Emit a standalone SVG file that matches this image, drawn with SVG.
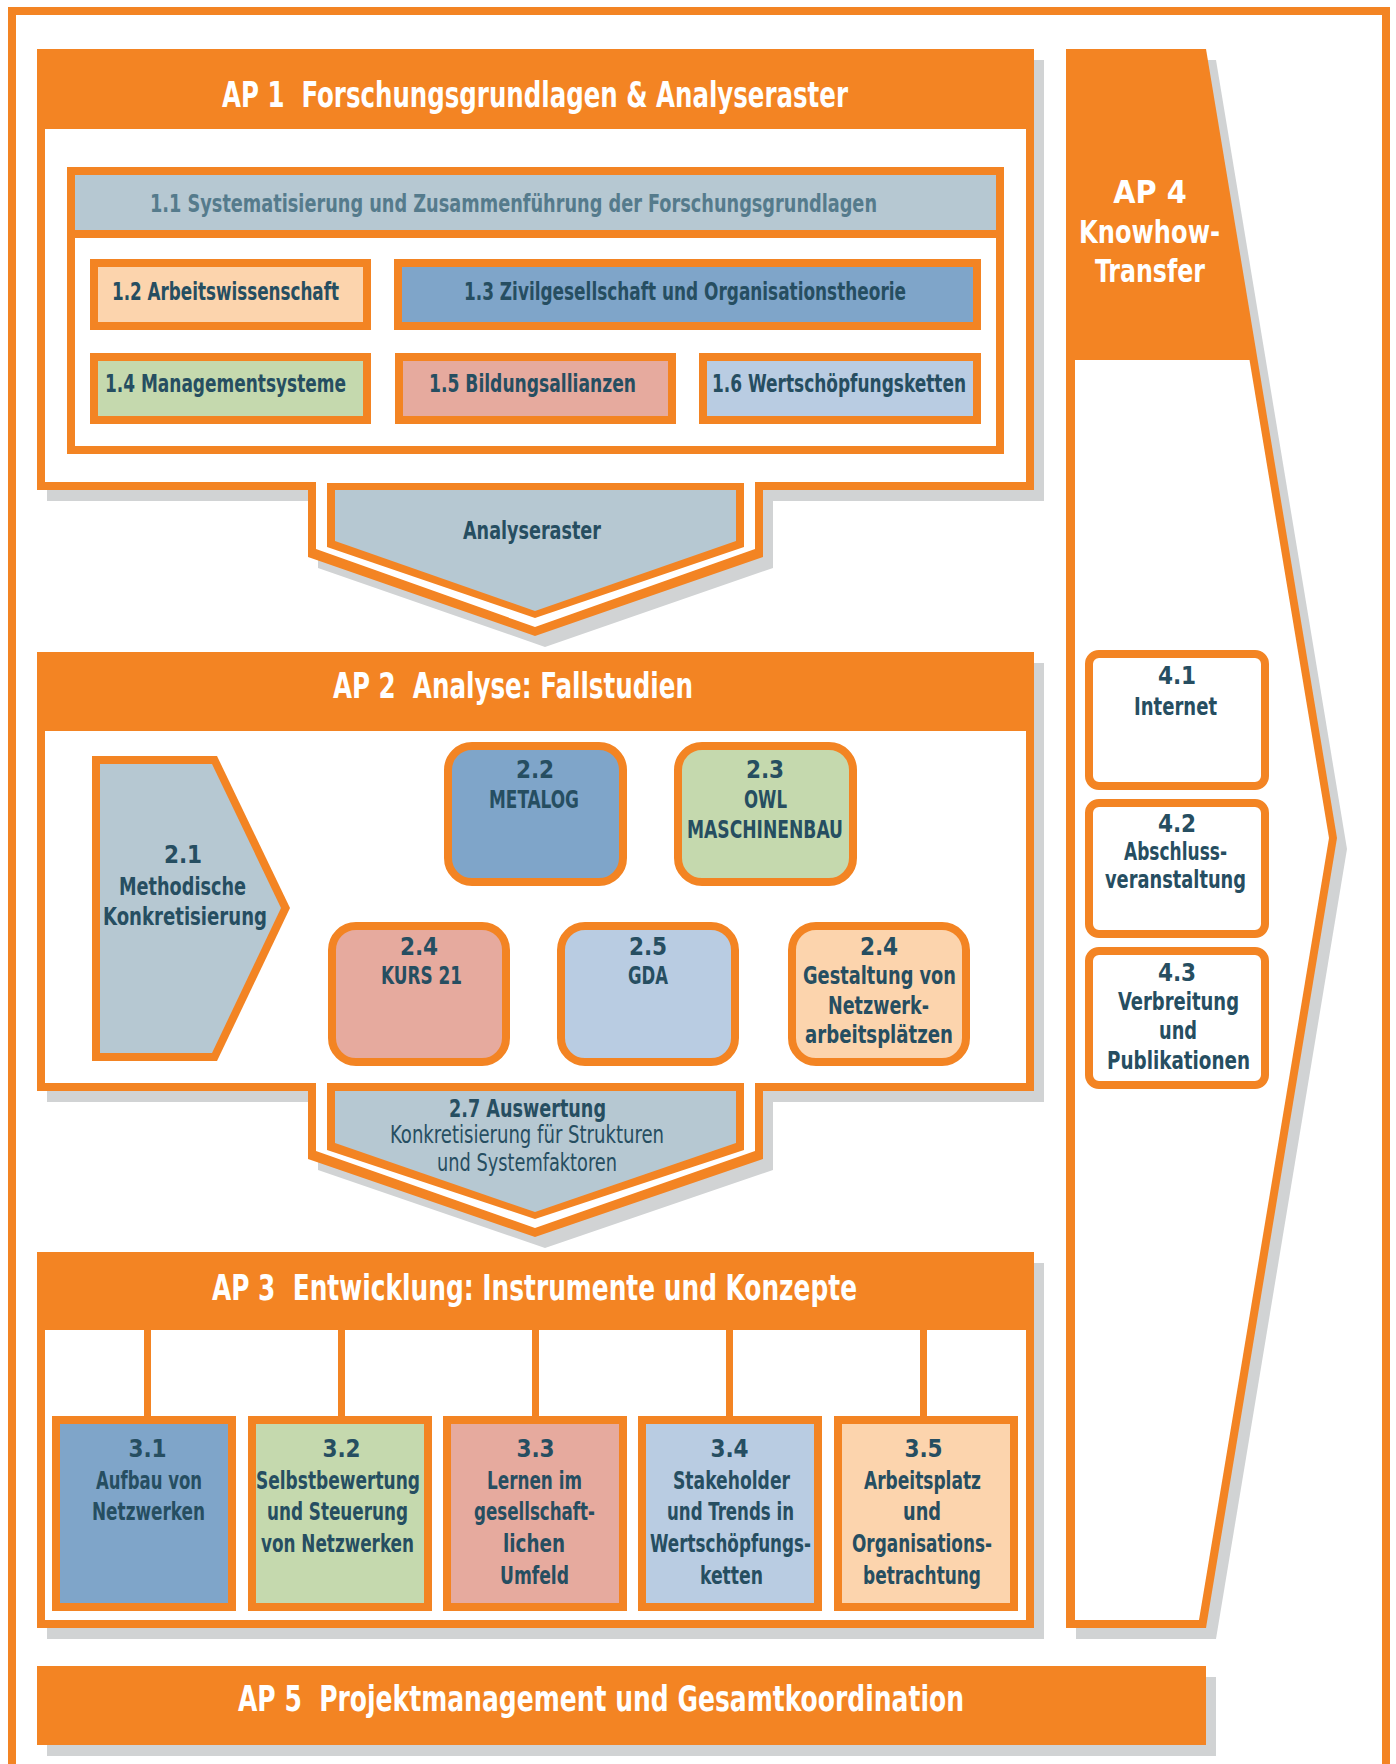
<svg xmlns="http://www.w3.org/2000/svg" width="1396" height="1764" viewBox="0 0 1396 1764">
<style>
.o{fill:#f38423}
.sh{fill:#d1d3d4}
.wf{fill:#fff}
.bx{stroke:#f38423;stroke-width:8}
.t{font-family:"Liberation Sans Narrow","DejaVu Sans Condensed","Liberation Sans",sans-serif;font-stretch:condensed;font-weight:bold;fill:#264e61;font-size:24px}
.n{font-weight:normal}
.h{fill:#fff;font-size:35px}
.h4{fill:#fff;font-size:32px}
.l{font-size:25px}
.m{text-anchor:middle}
.gb{fill:#b6c8d2}
.c1{fill:#7fa5c9}.c2{fill:#c5d9ae}.c3{fill:#e6aa9e}.c4{fill:#b9cce2}.c5{fill:#fcd4ad}
</style>
<rect width="1396" height="1764" fill="#fff"/>
<rect x="12" y="11" width="1374" height="1800" fill="none" stroke="#f38423" stroke-width="8"/>

<g id="shadows">
<polygon class="sh" points="47,60 1044,60 1044,501 773,501 773,568 545,647 318,568 318,501 47,501"/>
<polygon class="sh" points="47,663 1044,663 1044,1102 773,1102 773,1170 545,1248 318,1170 318,1102 47,1102"/>
<rect class="sh" x="47" y="1263" width="997" height="376"/>
<polygon class="sh" points="1076,60 1216,60 1347,849 1216,1639 1076,1639"/>
<rect class="sh" x="47" y="1677" width="1169" height="79"/>
</g>

<g id="ap1">
<polygon class="o" points="37,49 1034,49 1034,490 763,490 763,557 535,636 308,557 308,490 37,490"/>
<polygon class="wf" points="45,129 1026,129 1026,482 755,482 755,549 535,627 316,549 316,482 45,482"/>
<text class="t h" x="222" y="107" textLength="626" lengthAdjust="spacingAndGlyphs" xml:space="preserve">AP 1  Forschungsgrundlagen &amp; Analyseraster</text>
</g>

<g id="n1_1">
<rect class="o" x="67" y="167" width="937" height="287"/>
<rect class="wf" x="75" y="238" width="921" height="208"/>
<rect class="gb" x="75" y="175" width="921" height="55"/>
<text class="t" x="150" y="212" textLength="727" lengthAdjust="spacingAndGlyphs" style="fill:#557b8c">1.1 Systematisierung und Zusammenführung der Forschungsgrundlagen</text>
</g>
<g id="n1_2"><rect class="bx c5" x="94" y="263" width="273" height="63"/><text class="t l" x="112" y="300" textLength="227" lengthAdjust="spacingAndGlyphs">1.2 Arbeitswissenschaft</text></g>
<g id="n1_3"><rect class="bx c1" x="398" y="263" width="579" height="63"/><text class="t l" x="464" y="300" textLength="442" lengthAdjust="spacingAndGlyphs">1.3 Zivilgesellschaft und Organisationstheorie</text></g>
<g id="n1_4"><rect class="bx c2" x="94" y="357" width="273" height="63"/><text class="t l" x="105" y="392" textLength="241" lengthAdjust="spacingAndGlyphs">1.4 Managementsysteme</text></g>
<g id="n1_5"><rect class="bx c3" x="399" y="357" width="273" height="63"/><text class="t l" x="429" y="392" textLength="207" lengthAdjust="spacingAndGlyphs">1.5 Bildungsallianzen</text></g>
<g id="n1_6"><rect class="bx c4" x="703" y="357" width="274" height="63"/><text class="t l" x="712" y="392" textLength="254" lengthAdjust="spacingAndGlyphs">1.6 Wertschöpfungsketten</text></g>

<g id="analyseraster">
<polygon class="o" points="327,483 744,483 744,547 535,618 327,547"/>
<polygon class="gb" points="335,490 736,490 736,541 535,611 335,541"/>
<text class="t l" x="463" y="539" textLength="138" lengthAdjust="spacingAndGlyphs">Analyseraster</text>
</g>

<g id="ap2">
<polygon class="o" points="37,652 1034,652 1034,1091 763,1091 763,1159 535,1237 308,1159 308,1091 37,1091"/>
<polygon class="wf" points="45,731 1026,731 1026,1083 755,1083 755,1151 535,1228 316,1151 316,1083 45,1083"/>
<text class="t h" x="333" y="698" textLength="360" lengthAdjust="spacingAndGlyphs" xml:space="preserve">AP 2  Analyse: Fallstudien</text>
</g>

<g id="n2_1">
<polygon class="o" points="92,756 217,756 290,908 217,1061 92,1061"/>
<polygon class="gb" points="100,764 212,764 281,908 212,1053 100,1053"/>
<text class="t m" x="183" y="863">2.1</text>
<text class="t" x="119" y="895" textLength="127" lengthAdjust="spacingAndGlyphs">Methodische</text>
<text class="t" x="103" y="925" textLength="164" lengthAdjust="spacingAndGlyphs">Konkretisierung</text>
</g>
<g id="n2_2"><rect class="bx c1" x="448" y="746" width="175" height="136" rx="24"/>
<text class="t m" x="535" y="778">2.2</text><text class="t" x="489" y="808" textLength="90" lengthAdjust="spacingAndGlyphs">METALOG</text></g>
<g id="n2_3"><rect class="bx c2" x="678" y="746" width="175" height="136" rx="24"/>
<text class="t m" x="765" y="778">2.3</text><text class="t" x="744" y="808" textLength="43" lengthAdjust="spacingAndGlyphs">OWL</text><text class="t" x="687" y="838" textLength="156" lengthAdjust="spacingAndGlyphs">MASCHINENBAU</text></g>
<g id="n2_4a"><rect class="bx c3" x="332" y="926" width="174" height="136" rx="24"/>
<text class="t m" x="419" y="955">2.4</text><text class="t" x="381" y="984" textLength="81" lengthAdjust="spacingAndGlyphs">KURS 21</text></g>
<g id="n2_5"><rect class="bx c4" x="561" y="926" width="174" height="136" rx="24"/>
<text class="t m" x="648" y="955">2.5</text><text class="t" x="628" y="984" textLength="40" lengthAdjust="spacingAndGlyphs">GDA</text></g>
<g id="n2_4b"><rect class="bx c5" x="792" y="926" width="174" height="136" rx="24"/>
<text class="t m" x="879" y="955">2.4</text>
<text class="t" x="803" y="984" textLength="153" lengthAdjust="spacingAndGlyphs">Gestaltung von</text>
<text class="t" x="828" y="1014" textLength="101" lengthAdjust="spacingAndGlyphs">Netzwerk-</text>
<text class="t" x="805" y="1043" textLength="148" lengthAdjust="spacingAndGlyphs">arbeitsplätzen</text></g>

<g id="n2_7">
<polygon class="o" points="327,1083 744,1083 744,1150 535,1219 327,1150"/>
<polygon class="gb" points="335,1091 736,1091 736,1143 535,1212 335,1143"/>
<text class="t" x="449" y="1117" textLength="157" lengthAdjust="spacingAndGlyphs">2.7 Auswertung</text>
<text class="t n" x="390" y="1143" textLength="274" lengthAdjust="spacingAndGlyphs">Konkretisierung für Strukturen</text>
<text class="t n" x="437" y="1171" textLength="180" lengthAdjust="spacingAndGlyphs">und Systemfaktoren</text>
</g>

<g id="ap3">
<rect class="o" x="37" y="1252" width="997" height="376"/>
<rect class="wf" x="45" y="1330" width="981" height="290"/>
<text class="t h" x="212" y="1300" textLength="645" lengthAdjust="spacingAndGlyphs" xml:space="preserve">AP 3  Entwicklung: Instrumente und Konzepte</text>
</g>

<g id="connectors" stroke="#f38423" stroke-width="7">
<line x1="147.5" y1="1328" x2="147.5" y2="1420"/>
<line x1="341.5" y1="1328" x2="341.5" y2="1420"/>
<line x1="535.5" y1="1328" x2="535.5" y2="1420"/>
<line x1="729.5" y1="1328" x2="729.5" y2="1420"/>
<line x1="923.5" y1="1328" x2="923.5" y2="1420"/>
</g>

<g id="n3_1"><rect class="bx c1" x="56" y="1420" width="176" height="187"/>
<text class="t m" x="147.5" y="1457">3.1</text>
<text class="t" x="96" y="1489" textLength="106" lengthAdjust="spacingAndGlyphs">Aufbau von</text>
<text class="t" x="92" y="1520" textLength="113" lengthAdjust="spacingAndGlyphs">Netzwerken</text></g>
<g id="n3_2"><rect class="bx c2" x="252" y="1420" width="176" height="187"/>
<text class="t m" x="341.5" y="1457">3.2</text>
<text class="t" x="256" y="1489" textLength="164" lengthAdjust="spacingAndGlyphs">Selbstbewertung</text>
<text class="t" x="267" y="1520" textLength="141" lengthAdjust="spacingAndGlyphs">und Steuerung</text>
<text class="t" x="261" y="1552" textLength="153" lengthAdjust="spacingAndGlyphs">von Netzwerken</text></g>
<g id="n3_3"><rect class="bx c3" x="447" y="1420" width="176" height="187"/>
<text class="t m" x="535.5" y="1457">3.3</text>
<text class="t" x="487" y="1489" textLength="95" lengthAdjust="spacingAndGlyphs">Lernen im</text>
<text class="t" x="474" y="1520" textLength="121" lengthAdjust="spacingAndGlyphs">gesellschaft-</text>
<text class="t" x="503" y="1552" textLength="62" lengthAdjust="spacingAndGlyphs">lichen</text>
<text class="t" x="500" y="1584" textLength="69" lengthAdjust="spacingAndGlyphs">Umfeld</text></g>
<g id="n3_4"><rect class="bx c4" x="642" y="1420" width="176" height="187"/>
<text class="t m" x="729.5" y="1457">3.4</text>
<text class="t" x="673" y="1489" textLength="117" lengthAdjust="spacingAndGlyphs">Stakeholder</text>
<text class="t" x="667" y="1520" textLength="127" lengthAdjust="spacingAndGlyphs">und Trends in</text>
<text class="t" x="650" y="1552" textLength="161" lengthAdjust="spacingAndGlyphs">Wertschöpfungs-</text>
<text class="t" x="700" y="1584" textLength="63" lengthAdjust="spacingAndGlyphs">ketten</text></g>
<g id="n3_5"><rect class="bx c5" x="838" y="1420" width="176" height="187"/>
<text class="t m" x="923.5" y="1457">3.5</text>
<text class="t" x="864" y="1489" textLength="117" lengthAdjust="spacingAndGlyphs">Arbeitsplatz</text>
<text class="t" x="903" y="1520" textLength="38" lengthAdjust="spacingAndGlyphs">und</text>
<text class="t" x="852" y="1552" textLength="140" lengthAdjust="spacingAndGlyphs">Organisations-</text>
<text class="t" x="863" y="1584" textLength="118" lengthAdjust="spacingAndGlyphs">betrachtung</text></g>

<g id="ap4">
<polygon class="o" points="1066,49 1206,49 1337,838 1206,1628 1066,1628"/>
<polygon class="wf" points="1075,360 1249.5,360 1329,838 1199,1620 1075,1620"/>
<text class="t h4 m" x="1150" y="203">AP 4</text>
<text class="t h4" x="1079" y="243" textLength="141" lengthAdjust="spacingAndGlyphs">Knowhow-</text>
<text class="t h4" x="1095" y="282" textLength="110" lengthAdjust="spacingAndGlyphs">Transfer</text>
</g>
<g id="n4_1"><rect class="bx wf" x="1089" y="654" width="176" height="132" rx="10"/>
<text class="t m" x="1177" y="684">4.1</text>
<text class="t" x="1134" y="715" textLength="83" lengthAdjust="spacingAndGlyphs">Internet</text></g>
<g id="n4_2"><rect class="bx wf" x="1089" y="803" width="176" height="131" rx="10"/>
<text class="t m" x="1177" y="832">4.2</text>
<text class="t" x="1124" y="860" textLength="103" lengthAdjust="spacingAndGlyphs">Abschluss-</text>
<text class="t" x="1105" y="888" textLength="141" lengthAdjust="spacingAndGlyphs">veranstaltung</text></g>
<g id="n4_3"><rect class="bx wf" x="1089" y="951" width="176" height="134" rx="10"/>
<text class="t m" x="1177" y="981">4.3</text>
<text class="t" x="1118" y="1010" textLength="121" lengthAdjust="spacingAndGlyphs">Verbreitung</text>
<text class="t" x="1159" y="1039" textLength="38" lengthAdjust="spacingAndGlyphs">und</text>
<text class="t" x="1107" y="1069" textLength="143" lengthAdjust="spacingAndGlyphs">Publikationen</text></g>

<g id="ap5">
<rect class="o" x="37" y="1666" width="1169" height="79"/>
<text class="t h" x="238" y="1711" textLength="726" lengthAdjust="spacingAndGlyphs" xml:space="preserve">AP 5  Projektmanagement und Gesamtkoordination</text>
</g>
</svg>
